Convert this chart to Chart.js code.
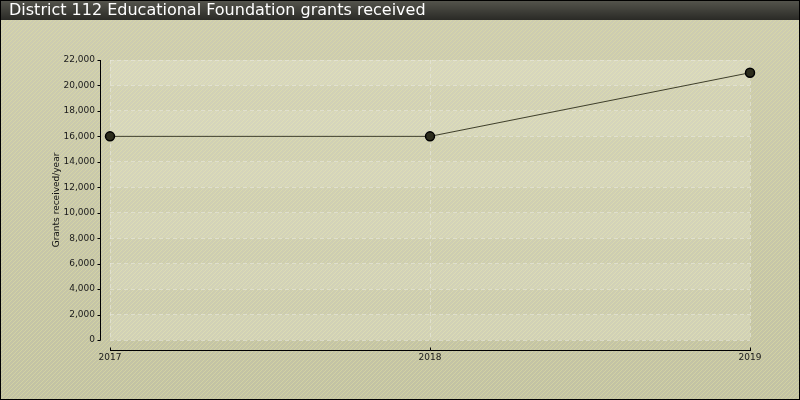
<!DOCTYPE html>
<html>
<head>
<meta charset="utf-8">
<script src="https://cdn.jsdelivr.net/npm/chart.js@4"></script>
<style>
  html, body { margin: 0; padding: 0; background: #cbcbab; }
  #wrap { width: 800px; height: 400px; position: relative; }
</style>
</head>
<body>
<div id="wrap"><canvas id="grantsChart" width="800" height="400"></canvas></div>
<script>
// Chart data
const chartTitle = 'District 112 Educational Foundation grants received';
const years = ['2017', '2018', '2019'];
const grants = [16000, 16000, 21000];
const yAxisTitle = 'Grants received/year';

const FONT = '"DejaVu Sans", Verdana, sans-serif';

// striped khaki fill used for the page background
function makeStripes() {
    const p = document.createElement('canvas');
    p.width = 4; p.height = 4;
    const c = p.getContext('2d');
    c.strokeStyle = 'rgba(222,222,160,0.55)';
    c.lineWidth = 1;
    c.beginPath();
    c.moveTo(0, 4); c.lineTo(4, 0);
    c.moveTo(-1, 1); c.lineTo(1, -1);
    c.moveTo(3, 5); c.lineTo(5, 3);
    c.stroke();
    return p;
}

const backdrop = {
    id: 'backdrop',
    beforeDraw(chart) {
        const { ctx, width, height, chartArea } = chart;
        ctx.save();
        const g = ctx.createLinearGradient(0, 0, 0, height);
        g.addColorStop(0, '#cecdb2');
        g.addColorStop(1, '#c2c2a4');
        ctx.fillStyle = g;
        ctx.fillRect(0, 0, width, height);
        ctx.fillStyle = ctx.createPattern(makeStripes(), 'repeat');
        ctx.fillRect(0, 0, width, height);

        // alternating bands inside the plot
        const y = chart.scales.y;
        const ticks = y.ticks;
        for (let i = 0; i < ticks.length - 1; i++) {
            const top = y.getPixelForValue(ticks[i + 1].value);
            const bot = y.getPixelForValue(ticks[i].value);
            ctx.fillStyle = i % 2 === 0 ? 'rgba(255,255,240,0.22)' : 'rgba(255,255,240,0.13)';
            ctx.fillRect(chartArea.left, top, chartArea.right - chartArea.left, bot - top);
        }

        // title bar
        const tb = ctx.createLinearGradient(0, 0, 0, 20);
        tb.addColorStop(0, '#56564e');
        tb.addColorStop(1, '#2a2a26');
        ctx.fillStyle = tb;
        ctx.fillRect(0, 0, width, 20);
        ctx.fillStyle = '#ffffff';
        ctx.font = '16px ' + FONT;
        ctx.textBaseline = 'alphabetic';
        ctx.fillText(chartTitle, 9, 15);
        ctx.restore();
    },
    afterDraw(chart) {
        const { ctx, width, height } = chart;
        const x = chart.scales.x, y = chart.scales.y;
        ctx.save();
        ctx.strokeStyle = '#000';
        ctx.lineWidth = 1;
        ctx.beginPath();
        // y axis, set off to the left of the plot
        const ax = 100.5;
        ctx.moveTo(ax, Math.round(y.getPixelForValue(y.max)));
        ctx.lineTo(ax, Math.round(y.getPixelForValue(y.min)) + 0.5);
        y.ticks.forEach(t => {
            const py = Math.round(y.getPixelForValue(t.value)) + 0.5;
            ctx.moveTo(ax - 3, py); ctx.lineTo(ax, py);
        });
        // x axis, set off below the plot
        const ay = 350.5;
        ctx.moveTo(Math.round(x.getPixelForValue(0)), ay);
        ctx.lineTo(Math.round(x.getPixelForValue(years.length - 1)) + 1, ay);
        years.forEach((_, i) => {
            const px = Math.round(x.getPixelForValue(i)) + 0.5;
            ctx.moveTo(px, ay - 3); ctx.lineTo(px, ay);
        });
        ctx.stroke();
        ctx.strokeRect(0.5, 0.5, width - 1, height - 1);
        ctx.restore();
    }
};

document.addEventListener('DOMContentLoaded', function () {
    if (typeof Chart === 'undefined') {
        console.warn('Chart.js is not loaded.');
        return;
    }
    const gridDash = {
        color: 'rgba(235,235,225,0.55)',
        lineWidth: 1,
        drawTicks: false
    };
    new Chart(document.getElementById('grantsChart'), {
        type: 'line',
        data: {
            labels: years,
            datasets: [{
                data: grants,
                borderColor: '#3e3e2a',
                borderWidth: 1,
                pointRadius: 4.5,
                pointBackgroundColor: '#2c2c1c',
                pointBorderColor: '#000',
                pointBorderWidth: 1.5,
                pointHoverRadius: 4.5,
                tension: 0,
                clip: false
            }]
        },
        options: {
            responsive: false,
            animation: false,
            events: [],
            layout: { padding: { left: 0, right: 50, top: 60, bottom: 40 } },
            plugins: { legend: { display: false }, tooltip: { enabled: false } },
            scales: {
                x: {
                    offset: false,
                    grid: Object.assign({}, gridDash),
                    border: { display: false, dash: [4, 3] },
                    afterFit: s => { s.height = 20; },
                    ticks: { padding: 12, color: '#1a1a1a', font: { family: FONT, size: 9 }, maxRotation: 0 }
                },
                y: {
                    min: 0,
                    max: 22000,
                    grid: Object.assign({}, gridDash),
                    border: { display: false, dash: [4, 3] },
                    afterFit: s => { s.width = 110; },
                    ticks: {
                        stepSize: 2000,
                        padding: 15,
                        color: '#1a1a1a',
                        font: { family: FONT, size: 9 },
                        callback: v => v.toLocaleString('en-US')
                    },
                    title: {
                        display: true,
                        text: yAxisTitle,
                        color: '#111',
                        font: { family: FONT, size: 9 },
                        padding: { top: 51, bottom: 0 }
                    }
                }
            }
        },
        plugins: [backdrop]
    });
});
</script>
</body>
</html>
